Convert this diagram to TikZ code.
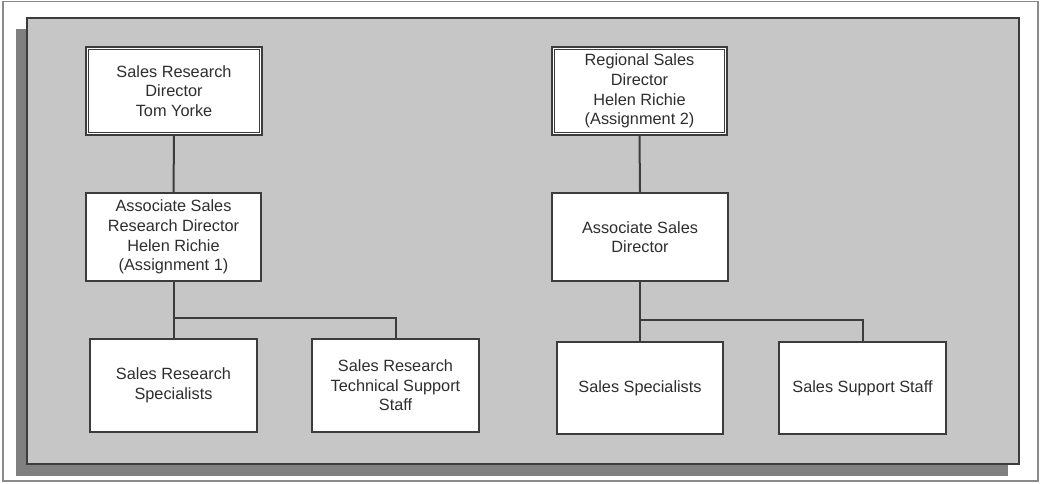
\documentclass[tikz,border=0pt]{standalone}
\usepackage{fontspec}
\setmainfont{Liberation Sans}
\definecolor{panelfill}{HTML}{C6C6C6}
\definecolor{shadowfill}{HTML}{808080}
\definecolor{linecol}{HTML}{3C3C3C}
\definecolor{textcol}{HTML}{2E2E2E}
\definecolor{framecol}{HTML}{8A8A8A}
\begin{document}
\begin{tikzpicture}[x=1pt,y=-1pt,
  orgbox/.style={draw=linecol, line width=1.5pt, fill=white, inner sep=0pt,
    text=textcol, align=center, font=\fontsize{16.3}{19.6}\selectfont},
  conn/.style={draw=linecol, line width=2pt}]
\useasboundingbox (0,0) rectangle (1041,483);
% outer frame
\draw[framecol, line width=1.3pt, fill=white] (3,1.5) rectangle (1038,481);
% shadow and panel
\fill[shadowfill] (16,29) rectangle (1008,476);
\draw[linecol, line width=1.4pt, fill=panelfill] (27,18) rectangle (1019,464);
% nodes
\node[orgbox, minimum width=176pt, minimum height=88pt] (srd) at (174,91)
  {Sales Research\\Director\\Tom Yorke};
\draw[linecol, line width=1.4pt] ([shift={(3.5,3.5)}]srd.north west) rectangle ([shift={(-3.5,-3.5)}]srd.south east);
\node[orgbox, minimum width=175pt, minimum height=88pt] (asrd) at (173.5,237)
  {Associate Sales\\Research Director\\Helen Richie\\(Assignment 1)};
\node[orgbox, minimum width=167pt, minimum height=93pt] (srs) at (173.5,385.5)
  {Sales Research\\Specialists};
\node[orgbox, minimum width=167pt, minimum height=93pt] (srtss) at (395.5,385.5)
  {Sales Research\\Technical Support\\Staff};
\node[orgbox, minimum width=175pt, minimum height=88pt] (rsd) at (639.5,91)
  {Regional Sales\\Director\\Helen Richie\\(Assignment 2)};
\draw[linecol, line width=1.4pt] ([shift={(3.5,3.5)}]rsd.north west) rectangle ([shift={(-3.5,-3.5)}]rsd.south east);
\node[orgbox, minimum width=176pt, minimum height=88pt] (asd) at (640,237)
  {Associate Sales\\Director};
\node[orgbox, minimum width=166pt, minimum height=92pt] (ss) at (640,388)
  {Sales Specialists};
\node[orgbox, minimum width=167pt, minimum height=92pt] (sss) at (862.5,388)
  {Sales Support Staff};
% connectors
\draw[conn] (srd.south) -- (asrd.north);
\draw[conn] (asrd.south) -- (srs.north);
\draw[conn] (asrd.south) -- ++(0,36) -| (srtss.north);
\draw[conn] (rsd.south) -- (asd.north);
\draw[conn] (asd.south) -- (ss.north);
\draw[conn] (asd.south) -- ++(0,38) -| (sss.north);
\end{tikzpicture}
\end{document}
